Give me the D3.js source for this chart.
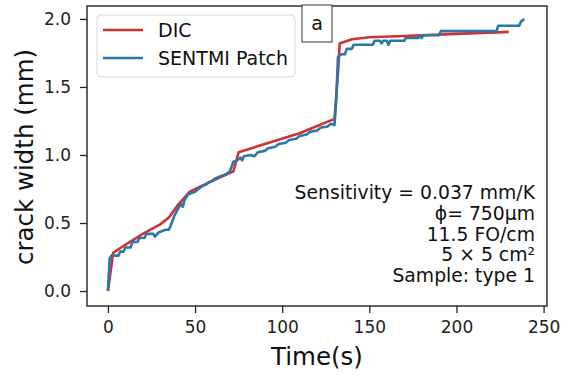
<!DOCTYPE html>
<html>
<head>
<meta charset="utf-8">
<script src="https://cdn.jsdelivr.net/npm/d3@7"></script>
<style>
  body { margin: 0; background: #fff; }
  svg { display: block; font-family: "DejaVu Sans", sans-serif; }
</style>
</head>
<body>
<div id="chart"></div>
<script>
// DIC measurement (time s, crack width mm)
const dicTime  = [0, 3, 10, 20, 30, 35, 40, 47, 55, 65, 72, 75, 90, 110, 129, 130, 132, 133, 140, 150, 170, 200, 230];
const dicWidth = [0, 0.28, 0.34, 0.42, 0.49, 0.54, 0.63, 0.73, 0.78, 0.84, 0.88, 1.02, 1.08, 1.16, 1.26, 1.26, 1.60, 1.82, 1.85, 1.865, 1.875, 1.89, 1.905];

// SENTMI patch readings
const patchTime  = [0, 1, 2, 6, 7, 9, 10, 13, 14, 17, 18, 21, 22, 26, 27, 29, 33, 35, 36, 38, 40, 42, 43, 44, 46, 48, 50, 52, 54, 56, 58, 60, 62, 64, 66, 68, 70, 72, 74, 76, 77, 78, 82, 84, 86, 90, 92, 96, 98, 102, 104, 108, 110, 114, 116, 120, 122, 126, 128, 130, 131, 132, 134, 136, 137, 140, 141, 152, 153, 156, 157, 158, 160, 161, 162, 170, 171, 178, 179, 180, 181, 190, 191, 223, 224, 236, 237, 239];
const patchWidth = [0, 0.24, 0.26, 0.26, 0.29, 0.29, 0.32, 0.32, 0.36, 0.36, 0.39, 0.39, 0.42, 0.42, 0.40, 0.43, 0.45, 0.45, 0.48, 0.55, 0.60, 0.64, 0.62, 0.67, 0.71, 0.72, 0.73, 0.75, 0.77, 0.78, 0.80, 0.81, 0.83, 0.84, 0.85, 0.86, 0.88, 0.95, 0.96, 0.98, 0.96, 0.99, 1.00, 0.99, 1.02, 1.03, 1.05, 1.06, 1.08, 1.09, 1.11, 1.12, 1.14, 1.15, 1.17, 1.18, 1.20, 1.21, 1.23, 1.22, 1.40, 1.72, 1.74, 1.74, 1.78, 1.78, 1.81, 1.81, 1.84, 1.84, 1.82, 1.84, 1.84, 1.81, 1.84, 1.84, 1.86, 1.86, 1.88, 1.86, 1.88, 1.88, 1.91, 1.91, 1.95, 1.95, 1.98, 2.0];

const xTicks = [0, 50, 100, 150, 200, 250];
const yTicks = [0.0, 0.5, 1.0, 1.5, 2.0];
const legendNames = ["DIC", "SENTMI Patch"];
const seriesColors = ["#d03133", "#2a77a8"];
const noteLines = ["Sensitivity = 0.037 mm/K", "\u03d5= 750\u03bcm", "11.5 FO/cm", "5 \u00d7 5 cm\u00b2", "Sample: type 1"];

const W = 563, H = 380;
const m = {left: 87, right: 16, top: 6, bottom: 74};

const svg = d3.select("#chart").append("svg")
    .attr("width", W).attr("height", H);

const x = d3.scaleLinear().domain([-12, 251.95]).range([m.left, W - m.right]);
const y = d3.scaleLinear().domain([-0.11, 2.095]).range([H - m.bottom, m.top]);

// axes
const xAxis = svg.append("g")
    .attr("transform", "translate(0," + (H - m.bottom) + ")")
    .call(d3.axisBottom(x).tickValues(xTicks).tickSize(7).tickPadding(8).tickFormat(d3.format("d")));
const yAxis = svg.append("g")
    .attr("transform", "translate(" + m.left + ",0)")
    .call(d3.axisLeft(y).tickValues(yTicks).tickSize(7).tickPadding(9).tickFormat(d3.format(".1f")));
[xAxis, yAxis].forEach(g => {
  g.select(".domain").remove();
  g.selectAll("line").attr("stroke", "#222").attr("stroke-width", 1.3);
  g.selectAll("text").attr("fill", "#222").style("font-size", "17px").style("font-family", "DejaVu Sans");
});

// lines
const line = d3.line().x(d => x(d[0])).y(d => y(d[1]));
const dicData = dicTime.map((t, i) => [t, dicWidth[i]]);
const patchData = patchTime.map((t, i) => [t, patchWidth[i]]);

svg.append("path").datum(dicData)
    .attr("fill", "none").attr("stroke", seriesColors[0])
    .attr("stroke-width", 2.6).attr("stroke-linejoin", "round")
    .attr("d", line);
svg.append("path").datum(patchData)
    .attr("fill", "none").attr("stroke", seriesColors[1])
    .attr("stroke-width", 2.6).attr("stroke-linejoin", "round")
    .attr("d", line);

// frame
svg.append("rect")
    .attr("x", m.left).attr("y", m.top)
    .attr("width", W - m.left - m.right).attr("height", H - m.top - m.bottom)
    .attr("fill", "none").attr("stroke", "#222").attr("stroke-width", 1.4);

// axis labels
svg.append("text")
    .attr("x", (m.left + W - m.right) / 2).attr("y", 365)
    .attr("text-anchor", "middle").attr("fill", "#111")
    .style("font-size", "24.5px")
    .text("Time(s)");
svg.append("text")
    .attr("transform", "translate(33,157) rotate(-90)")
    .attr("text-anchor", "middle").attr("fill", "#111")
    .style("font-size", "24.5px")
    .text("crack width (mm)");

// legend
const leg = svg.append("g");
leg.append("rect")
    .attr("x", 97).attr("y", 15).attr("width", 198).attr("height", 62)
    .attr("rx", 4).attr("fill", "#fff").attr("fill-opacity", 0.85)
    .attr("stroke", "#d8d8d8");
legendNames.forEach((name, i) => {
  const ly = 30 + i * 28;
  leg.append("line")
      .attr("x1", 103).attr("x2", 143).attr("y1", ly).attr("y2", ly)
      .attr("stroke", seriesColors[i]).attr("stroke-width", 2.6);
  leg.append("text")
      .attr("x", 158).attr("y", ly + 7)
      .attr("fill", "#111").style("font-size", "19px")
      .text(name);
});

// panel tag
svg.append("rect")
    .attr("x", 302).attr("y", 5).attr("width", 30).attr("height", 37)
    .attr("fill", "#fff").attr("stroke", "#555").attr("stroke-width", 1.2);
svg.append("text")
    .attr("x", 317).attr("y", 30).attr("text-anchor", "middle")
    .attr("fill", "#111").style("font-size", "19px")
    .text("a");

// annotation
noteLines.forEach((t, i) => {
  svg.append("text")
      .attr("x", 535).attr("y", 199 + i * 20.8)
      .attr("text-anchor", "end").attr("fill", "#111")
      .style("font-size", "18.8px")
      .text(t);
});
</script>
</body>
</html>
